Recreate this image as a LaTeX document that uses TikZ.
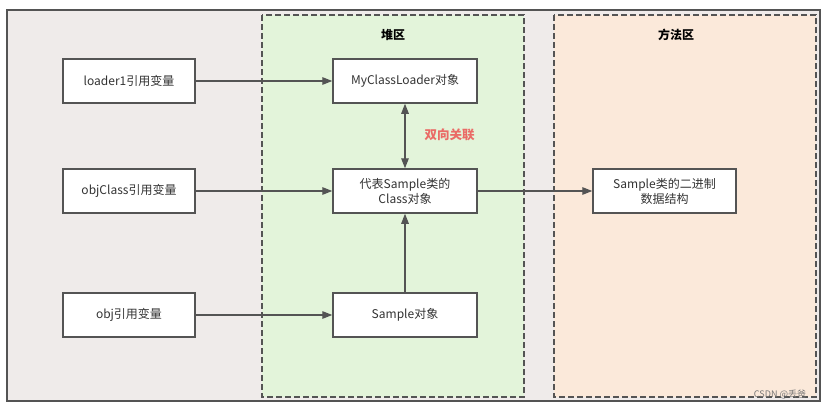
\documentclass[tikz,border=0pt]{standalone}
\usepackage{fontspec}
\setmainfont{Noto Sans CJK SC}
\usepackage{xcolor}
\definecolor{ColLine}{RGB}{84,84,84}
\definecolor{ColText}{RGB}{51,51,51}
\definecolor{ColOuter}{RGB}{239,235,234}
\definecolor{ColHeap}{RGB}{227,244,218}
\definecolor{ColMethod}{RGB}{251,233,218}
\definecolor{ColRed}{RGB}{234,107,102}
\usepackage{tikz}
\usetikzlibrary{arrows.meta}
\tikzstyle{Outer}=[draw=ColLine,fill=ColOuter,line width=1.6pt]
\tikzstyle{Region}=[draw=ColLine,line width=1.4pt,dash pattern=on 6pt off 3pt]
\tikzstyle{Box}=[rectangle,draw=ColLine,fill=white,line width=1.5pt,
minimum height=44pt,text=ColText,align=center,font=\fontsize{12}{15}\selectfont]
\tikzstyle{BoxL}=[Box,minimum width=132pt]
\tikzstyle{BoxR}=[Box,minimum width=144pt]
\tikzstyle{Title}=[text=black,font=\fontsize{12}{14}\selectfont\bfseries]
\tikzstyle{Edge}=[draw=ColLine,line width=1.4pt,-{Triangle[length=10pt,width=7.5pt]}]
\begin{document}
\begin{tikzpicture}[x=1pt,y=-1pt]
        \useasboundingbox (0,0) rectangle (828,410);
        \fill[white] (0,0) rectangle (828,410);
        \draw[Outer] (7,10) rectangle (820,401);
        \draw[Region,fill=ColHeap] (262,15) rectangle (524,397);
        \draw[Region,fill=ColMethod] (554,15) rectangle (816,397);
        \node[Title](heap)at(393,35){堆区};
        \node[Title](method)at(676,35){方法区};
        \node[BoxL](loader)at(129,81){loader1引用变量};
        \node[BoxL](objclass)at(129,191){objClass引用变量};
        \node[BoxL](obj)at(129,315){obj引用变量};
        \node[BoxR](myloader)at(405,81){MyClassLoader对象};
        \node[BoxR](classobj)at(405,191){代表Sample类的\\Class对象};
        \node[BoxR](sample)at(405,315){Sample对象};
        \node[Box,minimum width=143pt](binary)at(664.5,191){Sample类的二进制\\数据结构};
        \node[text=ColRed,font=\fontsize{12.5}{15}\selectfont\bfseries](assoc)at(449.5,135){双向关联};
        \node[text=ColLine!80,font=\fontsize{9}{10}\selectfont](mark)at(780,394){CSDN @丢爸};
        \draw[Edge](loader)--(myloader);
        \draw[Edge](objclass)--(classobj);
        \draw[Edge](obj)--(sample);
        \draw[Edge,{Triangle[length=10pt,width=7.5pt]}-{Triangle[length=10pt,width=7.5pt]}](classobj)--(myloader);
        \draw[Edge](sample)--(classobj);
        \draw[Edge](classobj)--(binary);
    \end{tikzpicture}
\end{document}
